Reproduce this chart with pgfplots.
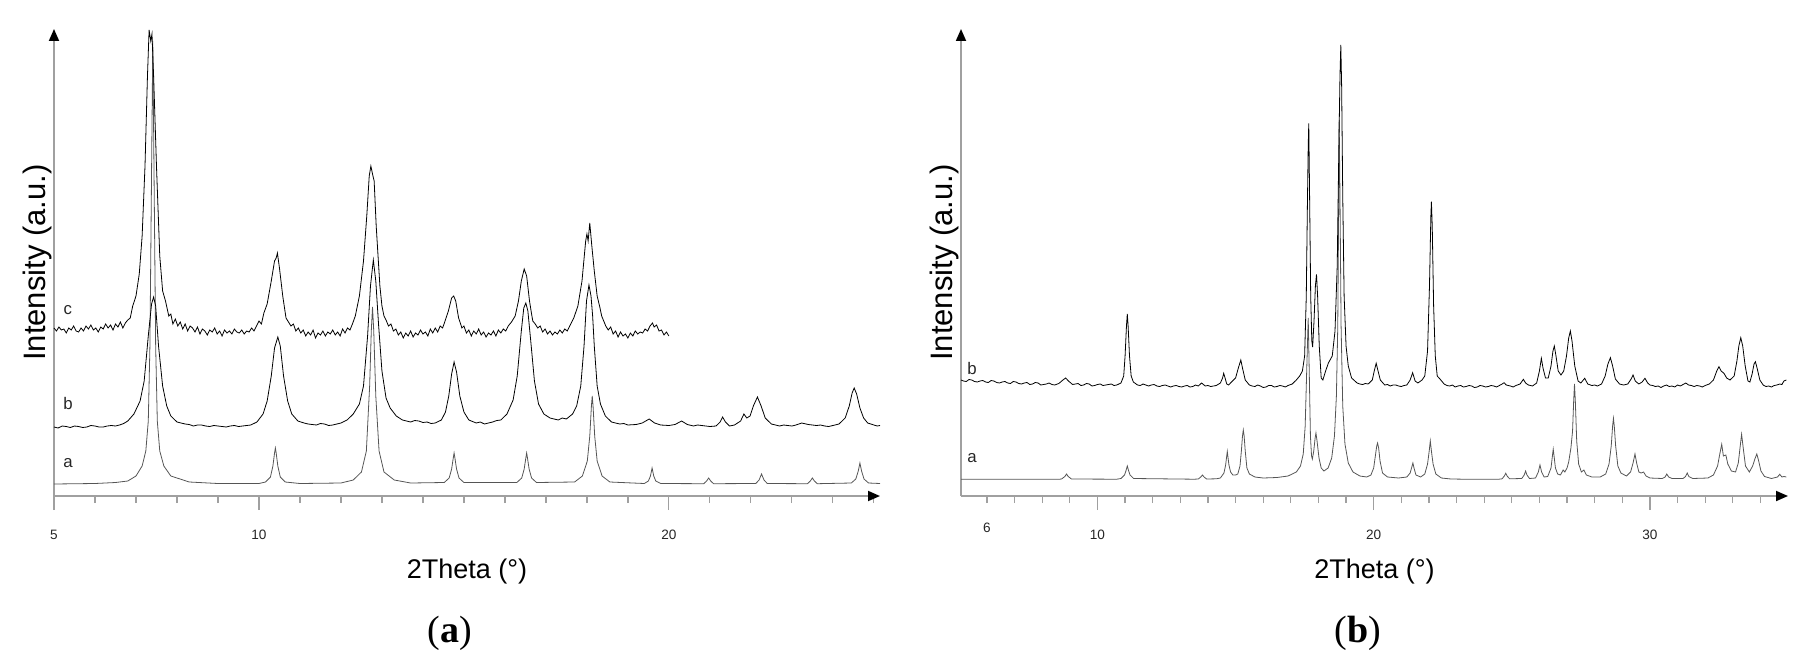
\documentclass[border=0pt]{standalone}
\usepackage{pgfplots}
\pgfplotsset{compat=1.18}
\usetikzlibrary{arrows.meta}
\usepackage{fontspec}
\setmainfont{Liberation Sans}
\newfontfamily\capfont{Liberation Serif}

\definecolor{axisGray}{RGB}{160,160,160}
\definecolor{traceGray}{RGB}{85,85,85}

% shared look of both XRD panels (y in pixel-like units above the x axis)
\pgfplotsset{
  xrd/.style={
    scale only axis,
    height=233.5pt,
    ymin=0, ymax=467,
    axis x line=bottom, axis y line=left,
    x axis line style={draw=axisGray, line width=0.9pt, -{Triangle[color=black, length=6pt, width=5pt]}},
    y axis line style={draw=axisGray, line width=0.9pt, -{Triangle[color=black, length=6pt, width=5pt]}},
    ytick=\empty,
    tick align=outside,
    major tick length=7pt, minor tick length=3.5pt,
    every tick/.style={axisGray, line width=0.6pt},
    /pgf/number format/assume math mode=true,
    xticklabel style={font=\fontsize{6.8}{8}\selectfont, text=black!85, yshift=-6.5pt},
    xlabel={2Theta (°)},
    xlabel style={font=\fontsize{13.5}{16}\selectfont, at={(axis description cs:0.5,0)}, anchor=center, yshift=-38pt},
    ylabel={Intensity (a.u.)},
    ylabel style={font=\fontsize{15.5}{18}\selectfont, at={(axis description cs:0,0.5)}, anchor=south, inner sep=0pt, yshift=1pt},
    clip=false,
    cycle list={{draw=traceGray, line width=0.4pt, mark=none}},
  },
}
\tikzset{curvelabel/.style={font=\fontsize{8.4}{10}\selectfont, text=black!85}}

\begin{document}
\begin{tikzpicture}
\useasboundingbox (0,-87pt) rectangle (904pt,248pt);

% ===== panel (a) =====
\begin{axis}[xrd,
  at={(27pt,0pt)}, anchor=south west,
  width=413pt,
  xmin=5, xmax=25.15,
  xtick={5,10,20},
  minor xtick={6,7,8,9,11,12,13,14,15,16,17,18,19,21,22,23,24,25},
]
% a
\addplot coordinates {(5,12) (6.0,12.5) (6.5,13.5) (6.8,15) (7.0,20) (7.15,30) (7.24,45) (7.30,75) (7.34,150) (7.37,280) (7.41,455) (7.45,280) (7.48,150) (7.52,75) (7.58,45) (7.68,30) (7.85,20) (8.3,14) (9,12.5) (10.0,12.5)
 (10.16,14) (10.28,19) (10.34,30) (10.38,43) (10.40,48) (10.42,43) (10.46,30) (10.52,19) (10.64,14)
 (11,12.5) (12.0,13) (12.3,16) (12.5,24) (12.62,45) (12.7,110) (12.74,165) (12.77,189) (12.80,165) (12.85,100) (12.93,45) (13.05,24) (13.3,16) (13.7,13)
 (14.52,13.5) (14.64,18) (14.70,27) (14.74,38) (14.76,43) (14.78,38) (14.82,27) (14.88,18) (15.0,13.5)
 (16.29,13.5) (16.41,18) (16.47,27) (16.51,38) (16.53,43) (16.55,38) (16.59,27) (16.65,18) (16.77,13.5)
 (17.7,14) (17.89,20) (18.01,35) (18.07,60) (18.11,90) (18.13,100) (18.15,90) (18.19,60) (18.25,35) (18.37,20) (18.56,14)
 (19.4,12.5) (19.5,15) (19.55,20) (19.59,28) (19.63,20) (19.68,15) (19.8,12.5)
 (20.85,12.3) (20.92,15) (20.97,18) (21.02,15) (21.09,12.3)
 (22.12,12.5) (22.2,16) (22.26,22) (22.32,16) (22.4,12.5)
 (23.38,12.3) (23.45,15) (23.50,18) (23.55,15) (23.62,12.3)
 (24.45,13) (24.56,17) (24.62,25) (24.66,33) (24.70,25) (24.76,17) (24.87,13) (25.15,12.5)};
% b
\addplot coordinates {(5.0,69) (5.1,68) (5.2,70) (5.3,69.5) (5.4,68.5) (5.5,70) (5.6,69.5) (5.7,68.5) (5.8,69) (5.9,70.5) (6.0,70) (6.1,69) (6.2,69) (6.3,70) (6.4,70.5) (6.5,70) (6.6,71) (6.7,72.5) (6.8,75) (6.95,82) (7.1,95) (7.2,115) (7.3,160) (7.38,192) (7.43,199) (7.48,190) (7.55,150) (7.65,110) (7.75,90) (7.85,80) (8.0,74) (8.1,73) (8.2,72) (8.3,71.5) (8.4,70) (8.5,71) (8.6,71) (8.7,70) (8.8,69.5) (8.9,70.5) (9.0,70) (9.1,69.5) (9.2,69) (9.3,70) (9.4,70.5) (9.5,69.5) (9.6,70) (9.7,70.5) (9.8,71)
 (9.95,74) (10.1,82) (10.2,95) (10.3,120) (10.38,148) (10.46,159) (10.52,150) (10.6,120) (10.7,95) (10.8,82) (10.95,75) (11.1,73) (11.2,72) (11.3,71.5) (11.4,71) (11.5,72.5) (11.6,72) (11.7,70.5) (11.8,71) (11.9,72) (12.0,73)
 (12.15,76) (12.3,82) (12.45,92) (12.55,110) (12.65,160) (12.72,210) (12.79,236) (12.85,215) (12.92,170) (13.0,125) (13.1,98) (13.2,88) (13.35,80) (13.5,76) (13.6,75) (13.7,74) (13.8,75.5) (13.9,75) (14.0,73.5) (14.1,74) (14.2,72.5) (14.3,73)
 (14.45,76) (14.55,84) (14.63,100) (14.7,122) (14.76,134) (14.82,124) (14.9,100) (15.0,84) (15.12,76) (15.3,73) (15.4,74) (15.5,72) (15.6,73) (15.7,74) (15.8,75.5) (15.9,76)
 (16.05,82) (16.2,96) (16.3,120) (16.4,165) (16.46,188) (16.51,193) (16.56,185) (16.63,155) (16.72,115) (16.82,92) (16.95,82) (17.1,78) (17.2,77) (17.3,76) (17.4,78) (17.5,77)
 (17.65,82) (17.75,90) (17.85,110) (17.93,150) (17.99,195) (18.05,211) (18.1,200) (18.14,180) (18.18,150) (18.25,110) (18.33,92) (18.45,80) (18.6,74) (18.7,73) (18.8,72) (18.9,72.5) (19.0,71)
 (19.2,71.5) (19.35,73) (19.52,77) (19.65,73) (19.8,71) (20.0,70.5) (20.15,71.5) (20.31,75) (20.45,71.5) (20.6,70) (20.7,71) (20.8,70.5) (20.9,70) (21.0,69.5) (21.15,70) (21.25,74) (21.31,79) (21.38,74) (21.48,70) (21.6,71)
 (21.75,75) (21.83,82) (21.9,78) (21.98,80) (22.06,90) (22.16,99) (22.25,90) (22.35,78) (22.5,72) (22.6,71) (22.7,70) (22.8,71) (22.9,70.5) (23.0,70) (23.1,71) (23.24,73) (23.4,71.5) (23.5,71) (23.6,70.5) (23.7,71) (23.8,70) (23.9,69.5) (24.0,70.5)
 (24.15,72) (24.3,78) (24.4,90) (24.47,103) (24.52,108) (24.58,102) (24.66,88) (24.75,78) (24.85,73) (25.0,71) (25.08,70) (25.15,70.5)};
% c
\addplot coordinates {(5.0,168) (5.06,165) (5.12,169) (5.18,166) (5.24,167) (5.3,163) (5.36,168) (5.42,166) (5.48,170) (5.54,165) (5.6,164) (5.66,168) (5.72,165) (5.78,170) (5.84,167) (5.9,171) (5.96,166) (6.02,168) (6.08,164) (6.14,169) (6.2,167) (6.26,172) (6.32,168) (6.38,171) (6.44,166) (6.5,172) (6.56,169) (6.62,174) (6.68,168) (6.74,173) (6.8,176) (6.86,178)
 (6.92,190) (7.0,200) (7.08,222) (7.15,260) (7.22,330) (7.28,420) (7.32,466) (7.36,455) (7.39,462) (7.43,420) (7.5,330) (7.58,240) (7.65,205) (7.72,195) (7.8,180) (7.85,182)
 (7.9,172) (7.96,177) (8.02,170) (8.08,174) (8.14,167) (8.2,172) (8.26,165) (8.32,170) (8.38,168) (8.44,164) (8.5,169) (8.56,162) (8.62,167) (8.68,165) (8.74,161) (8.8,166) (8.86,164) (8.92,168) (8.98,162) (9.04,165) (9.1,160) (9.16,166) (9.22,163) (9.28,165) (9.34,162) (9.4,167) (9.46,164) (9.52,163) (9.58,166) (9.64,162) (9.7,165) (9.76,164) (9.82,168) (9.88,165) (9.94,170)
 (10.0,175) (10.06,172) (10.12,183) (10.2,192) (10.3,215) (10.38,235) (10.42,238) (10.45,243) (10.5,228) (10.58,200) (10.66,178)
 (10.72,174) (10.78,170) (10.84,172) (10.9,165) (10.96,168) (11.02,163) (11.08,166) (11.14,160) (11.2,164) (11.26,161) (11.32,166) (11.38,158) (11.44,163) (11.5,161) (11.56,165) (11.62,160) (11.68,164) (11.74,162) (11.8,166) (11.86,161) (11.92,164) (11.98,160) (12.04,167) (12.1,163) (12.16,168) (12.22,166) (12.28,172)
 (12.35,180) (12.45,200) (12.55,235) (12.63,280) (12.69,320) (12.73,330) (12.77,322) (12.81,315) (12.86,270) (12.95,210) (13.0,190)
 (13.05,180) (13.1,176) (13.16,170) (13.22,172) (13.28,165) (13.34,167) (13.4,161) (13.46,164) (13.52,158) (13.58,163) (13.64,160) (13.7,165) (13.76,159) (13.82,163) (13.88,161) (13.94,166) (14.0,162) (14.06,164) (14.12,160) (14.18,167) (14.24,163) (14.3,168) (14.36,164) (14.42,170) (14.48,168) (14.54,175)
 (14.62,185) (14.7,198) (14.75,200) (14.8,195) (14.87,178) (14.92,172)
 (14.95,168) (15.0,170) (15.06,163) (15.12,166) (15.18,160) (15.24,165) (15.3,162) (15.36,167) (15.42,161) (15.48,164) (15.54,159) (15.6,163) (15.66,161) (15.72,165) (15.78,160) (15.84,166) (15.9,163) (15.96,167) (16.02,165) (16.08,170)
 (16.16,174) (16.25,180) (16.33,195) (16.4,215) (16.47,227) (16.53,220) (16.6,195) (16.65,182)
 (16.68,175) (16.74,172) (16.8,168) (16.86,170) (16.92,164) (16.98,167) (17.04,162) (17.1,165) (17.16,161) (17.22,164) (17.28,162) (17.34,166) (17.4,163) (17.46,167) (17.52,165) (17.58,170)
 (17.68,178) (17.78,190) (17.88,215) (17.97,255) (18.0,262) (18.03,255) (18.07,273) (18.12,250) (18.18,225) (18.25,200) (18.32,188) (18.36,180)
 (18.4,176) (18.46,170) (18.52,166) (18.58,169) (18.64,162) (18.7,165) (18.76,159) (18.82,164) (18.88,160) (18.94,162) (19.0,158) (19.06,163) (19.12,160) (19.18,165) (19.24,162) (19.3,164) (19.36,163) (19.42,167) (19.48,165) (19.54,170) (19.6,173) (19.64,169) (19.7,171) (19.76,165) (19.82,166) (19.88,161) (19.94,164) (20.0,160)};
\node[curvelabel] at (axis cs:5.34,186) {c};
\node[curvelabel] at (axis cs:5.34,93) {b};
\node[curvelabel] at (axis cs:5.34,33) {a};
\end{axis}

% ===== panel (b) =====
\begin{axis}[xrd,
  at={(480.5pt,0pt)}, anchor=south west,
  width=413.5pt,
  xmin=5.06, xmax=35,
  xtick={10,20,30},
  extra x ticks={6},
  extra x tick style={major tick length=3.5pt},
  minor xtick={7,8,9,11,12,13,14,15,16,17,18,19,21,22,23,24,25,26,27,28,29,31,32,33,34},
]
% a
\addplot coordinates {(5.06,16.7) (8.6,16.7)
 (8.7,17) (8.82,19.5) (8.88,22) (8.94,19.5) (9.06,17) (10.7,16.8)
 (10.85,17.5) (10.98,21) (11.03,25) (11.08,30) (11.13,25) (11.18,21) (11.31,17.5) (13.5,16.8)
 (13.65,17) (13.74,19) (13.80,21) (13.86,19) (13.95,17) (14.3,17.2)
 (14.45,18) (14.58,23) (14.64,31) (14.68,40) (14.70,44.5) (14.72,40) (14.76,31) (14.82,24) (14.9,21) (15.0,21)
 (15.08,22) (15.16,30) (15.21,45) (15.25,60) (15.28,66) (15.31,60) (15.35,45) (15.41,28) (15.5,22) (15.7,19) (16.0,18) (16.5,18.5)
 (16.9,20) (17.2,24) (17.35,30) (17.45,42) (17.52,70) (17.58,130) (17.63,178) (17.67,120) (17.71,60) (17.75,40) (17.78,37) (17.83,45) (17.88,58) (17.91,63) (17.95,55) (18.02,38) (18.1,28) (18.2,25)
 (18.35,28) (18.48,38) (18.58,60) (18.65,100) (18.7,170) (18.73,280) (18.75,376) (18.78,300) (18.82,170) (18.88,90) (18.96,52) (19.08,33) (19.25,24) (19.5,20) (19.75,19)
 (19.9,21) (20.0,28) (20.06,40) (20.11,50) (20.14,53) (20.18,48) (20.23,35) (20.32,23) (20.5,19) (20.9,18)
 (21.2,19) (21.32,23) (21.38,29) (21.42,33) (21.46,28) (21.53,21) (21.7,19) (21.85,22) (21.95,32) (22.01,45) (22.05,55) (22.09,45) (22.15,32) (22.25,22) (22.45,18) (22.8,17) (23.5,16.7) (24.5,16.7)
 (24.65,17.2) (24.73,20) (24.78,22.7) (24.83,20) (24.92,17.2)
 (25.36,17.5) (25.45,21) (25.50,25) (25.55,21) (25.64,17.5)
 (25.86,18) (25.96,24) (26.02,31) (26.08,24) (26.17,19)
 (26.3,19.5) (26.42,28) (26.47,40) (26.50,46.7) (26.53,40) (26.58,28) (26.66,22) (26.76,21) (26.8,23) (26.86,26) (26.92,24) (27.0,28)
 (27.06,34) (27.14,48) (27.2,65) (27.24,95) (27.27,112) (27.3,95) (27.35,55) (27.42,32) (27.52,24) (27.61,26) (27.7,21) (27.9,19) (28.2,19)
 (28.4,22) (28.52,32) (28.6,50) (28.65,70) (28.68,77.7) (28.71,70) (28.76,50) (28.84,30) (28.95,23) (29.15,20)
 (29.3,24) (29.39,33) (29.46,42) (29.52,33) (29.6,24) (29.68,23) (29.77,24) (29.86,20) (30.0,18) (30.45,17.5)
 (30.55,19) (30.61,22) (30.68,19) (30.8,17.5) (31.2,17.5) (31.29,19.5) (31.35,23) (31.41,19.5) (31.55,17.5) (32.1,18)
 (32.3,21) (32.45,30) (32.53,42) (32.6,51.7) (32.66,40) (32.75,41) (32.82,32) (32.95,25) (33.1,24)
 (33.2,33) (33.27,50) (33.32,61.7) (33.37,50) (33.46,30) (33.6,24) (33.72,30) (33.8,37) (33.87,42) (33.93,36) (34.02,25) (34.15,19.5) (34.4,17.5)
 (34.62,19) (34.7,21.7) (34.78,19) (34.85,19.5) (34.94,19)};
% b
\addplot coordinates {(5.06,116) (5.15,115) (5.25,114.5) (5.35,116.5) (5.45,116) (5.55,114.5) (5.65,114) (5.75,115) (5.85,115.5) (5.95,114) (6.05,113.5) (6.15,115.5) (6.25,115) (6.35,113.5) (6.45,113) (6.55,114) (6.65,114.5) (6.75,113) (6.85,112.5) (6.95,114.5) (7.05,114) (7.15,112.5) (7.25,112) (7.35,113) (7.45,113.5) (7.55,111.5) (7.65,112) (7.75,113.5) (7.85,113) (7.95,111) (8.05,111.5) (8.15,112) (8.25,113) (8.35,111.5) (8.45,111)
 (8.6,112.5) (8.75,116) (8.85,118) (8.95,115) (9.1,111.5) (9.2,112) (9.3,112.5) (9.4,110.5) (9.5,111) (9.6,112.5) (9.7,112) (9.8,110) (9.9,110.5) (10.0,111.5) (10.1,112) (10.2,110.5) (10.3,111) (10.4,111.5) (10.5,112) (10.6,110.5) (10.7,111)
 (10.85,113) (10.95,120) (11.0,140) (11.05,170) (11.08,182) (11.11,170) (11.16,140) (11.22,120) (11.3,114) (11.45,111) (11.55,110.5) (11.65,112) (11.75,111) (11.85,110) (11.95,111) (12.05,111.5) (12.15,110) (12.25,109.5) (12.35,110.5) (12.45,111) (12.55,110) (12.65,109) (12.75,110) (12.85,110.5) (12.95,109.5) (13.05,109) (13.15,110) (13.25,110.5) (13.35,109) (13.45,109.5) (13.55,111) (13.65,110)
 (13.77,113) (13.9,110) (14.0,110.5) (14.1,109.5) (14.2,110) (14.3,110.5) (14.45,113) (14.53,118) (14.57,122.7) (14.62,118) (14.68,112) (14.75,111) (14.85,114) (15.0,118) (15.1,128) (15.19,136) (15.25,128) (15.35,116) (15.5,111)
 (15.6,110) (15.7,109.5) (15.8,111) (15.9,110) (16.0,108.5) (16.1,109) (16.2,110.5) (16.3,110.5) (16.4,109) (16.5,109.5) (16.6,110.5) (16.7,110) (16.8,109) (16.9,110.5) (17.05,112) (17.2,116) (17.32,120) (17.42,125) (17.5,140) (17.56,200) (17.6,290) (17.63,350) (17.65,372.7) (17.68,300) (17.72,200) (17.76,155) (17.79,149)
 (17.84,175) (17.89,210) (17.93,221.7) (17.97,200) (18.03,150) (18.1,118) (18.16,116) (18.26,125) (18.36,133) (18.5,140) (18.6,165) (18.68,230) (18.74,350) (18.78,420) (18.81,451) (18.84,410) (18.88,300) (18.93,200) (19.0,150) (19.08,130) (19.2,118) (19.4,113) (19.5,112) (19.6,111.5) (19.7,112.5) (19.8,112)
 (19.95,116) (20.02,125) (20.09,132.7) (20.15,126) (20.24,116) (20.4,111) (20.5,111.5) (20.6,110) (20.7,111) (20.8,111) (20.9,110) (21.0,109.5) (21.1,110.5) (21.2,111) (21.32,116) (21.41,123.3) (21.5,115) (21.6,113) (21.75,116) (21.85,120)
 (21.95,145) (22.02,210) (22.07,280) (22.09,294.3) (22.12,270) (22.17,190) (22.23,140) (22.3,120) (22.4,117) (22.55,112) (22.65,110.5) (22.75,110) (22.85,111) (22.95,109) (23.05,110) (23.15,110.5) (23.25,109) (23.35,109.5) (23.45,110.5) (23.55,110) (23.65,108.5) (23.75,109) (23.85,110.5) (23.95,110) (24.05,109) (24.15,109.5) (24.25,110.5) (24.35,110) (24.45,109) (24.55,110.5)
 (24.65,112) (24.72,113.3) (24.8,111) (24.95,110) (25.05,109) (25.15,110.5) (25.3,112) (25.42,116.7) (25.5,113) (25.6,111) (25.75,110) (25.9,113) (26.0,125) (26.07,137.7) (26.13,128) (26.22,118) (26.32,118) (26.42,130) (26.49,145) (26.54,150) (26.6,140) (26.68,125) (26.78,121)
 (26.88,125) (26.98,140) (27.06,158) (27.12,165) (27.18,155) (27.28,130) (27.4,115) (27.5,113) (27.64,117.7) (27.75,112) (27.9,110.5) (28.0,111) (28.1,110) (28.25,112) (28.38,120) (28.48,132) (28.57,138.3) (28.65,130) (28.75,117) (28.9,112) (29.05,111)
 (29.2,112) (29.32,117) (29.39,121) (29.47,115) (29.6,112) (29.72,114) (29.82,117.7) (29.92,113) (30.0,111) (30.1,110.5) (30.2,109.5) (30.3,110) (30.4,108.5) (30.5,110) (30.6,111) (30.7,109.5) (30.8,110) (30.9,109) (31.0,111) (31.1,110) (31.2,111.5) (31.3,113) (31.4,111) (31.5,110.5) (31.6,109.5) (31.7,110.5) (31.8,110) (31.9,109) (32.0,110.5)
 (32.15,112) (32.3,116) (32.42,125) (32.5,129.3) (32.58,125) (32.68,122.7) (32.78,118) (32.9,116) (33.05,120) (33.15,135) (33.22,150) (33.29,158.3) (33.36,150) (33.45,130) (33.55,115) (33.62,114)
 (33.7,122) (33.77,132) (33.82,134.3) (33.88,128) (33.98,116) (34.1,111) (34.2,109.5) (34.3,110) (34.4,109) (34.5,110.5) (34.6,111) (34.7,112) (34.78,111.5) (34.85,115) (34.94,116)};
\node[curvelabel] at (axis cs:5.46,128) {b};
\node[curvelabel] at (axis cs:5.46,38) {a};
\end{axis}

% sub-figure captions
\node[font=\capfont\fontsize{19}{22}\selectfont] at (225pt,-68.5pt) {(\textbf{a})};
\node[font=\capfont\fontsize{19}{22}\selectfont] at (679pt,-68.5pt) {(\textbf{b})};
\end{tikzpicture}
\end{document}
